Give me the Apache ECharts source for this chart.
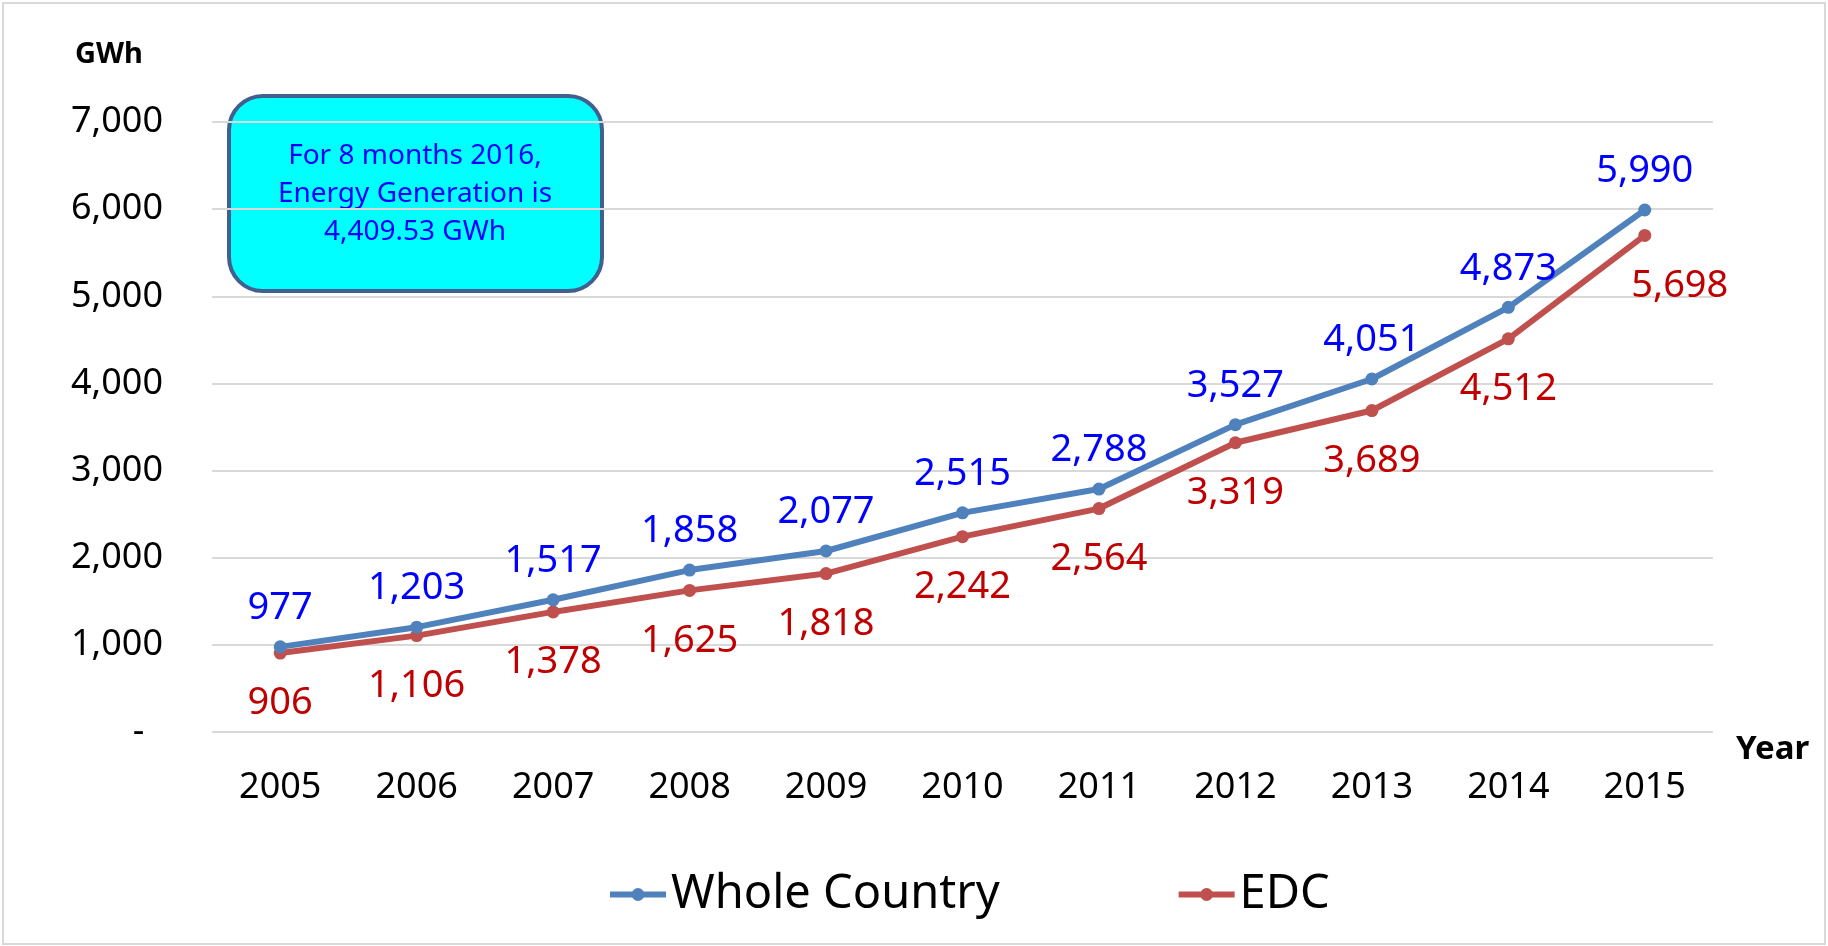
<!DOCTYPE html>
<html>
<head>
<meta charset="utf-8">
<title>Energy Generation</title>
<script src="https://cdn.jsdelivr.net/npm/echarts@6/dist/echarts.min.js"></script>
<style>
  html, body { margin: 0; padding: 0; background: #ffffff; }
  #main { width: 1828px; height: 946px; }
</style>
</head>
<body>
<div id="main"></div>
<script>
// chart data
const years = ['2005', '2006', '2007', '2008', '2009', '2010', '2011', '2012', '2013', '2014', '2015'];
const wholeCountry = [977, 1203, 1517, 1858, 2077, 2515, 2788, 3527, 4051, 4873, 5990];
const edc = [906, 1106, 1378, 1625, 1818, 2242, 2564, 3319, 3689, 4512, 5698];
const seriesNames = ['Whole Country', 'EDC'];
const noteLines = ['For 8 months 2016,', 'Energy Generation is', '4,409.53 GWh'];

const FONT = '"Noto Sans", "Open Sans", sans-serif';
const fmt = function (v) {
  return Number(v).toLocaleString('en-US');
};

var myChart = echarts.init(document.getElementById('main'));

// last EDC label sits a bit to the right in the original
var edcData = edc.map(function (v, i) {
  if (i === edc.length - 1) {
    return { value: v, label: { offset: [35, 0] } };
  }
  return v;
});

var option = {
  backgroundColor: '#ffffff',
  animation: false,
  grid: {
    left: 212,
    right: 115,
    top: 122,
    bottom: 214,
  },
  legend: {
    left: 602,
    top: 866,
    itemWidth: 56,
    itemHeight: 16,
    itemGap: 176,
    lineStyle: { width: 6 },
    textStyle: {
      fontFamily: FONT,
      fontSize: 47,
      color: '#000000',
    },
    data: seriesNames,
  },
  xAxis: {
    type: 'category',
    data: years,
    boundaryGap: true,
    axisLine: { show: false },
    axisTick: { show: false },
    axisLabel: {
      margin: 38,
      fontFamily: FONT,
      fontSize: 36,
      color: '#000000',
    },
  },
  yAxis: {
    type: 'value',
    min: 0,
    max: 7000,
    interval: 1000,
    axisLine: { show: false },
    axisTick: { show: false },
    splitLine: {
      lineStyle: { color: '#D9D9D9', width: 2 },
    },
    axisLabel: {
      margin: 49,
      fontFamily: FONT,
      fontSize: 36,
      color: '#000000',
      formatter: function (v) {
        return v === 0 ? '-  ' : fmt(v);
      },
    },
  },
  series: [
    {
      name: seriesNames[0],
      type: 'line',
      data: wholeCountry,
      symbol: 'circle',
      symbolSize: 13,
      color: '#4F81BD',
      lineStyle: { width: 6 },
      label: {
        show: true,
        position: 'top',
        distance: 13,
        fontFamily: FONT,
        fontSize: 38,
        color: '#0000FF',
        formatter: function (p) {
          return fmt(p.value);
        },
      },
      z: 3,
    },
    {
      name: seriesNames[1],
      type: 'line',
      data: edcData,
      symbol: 'circle',
      symbolSize: 13,
      color: '#C0504D',
      lineStyle: { width: 6 },
      label: {
        show: true,
        position: 'bottom',
        distance: 25,
        fontFamily: FONT,
        fontSize: 38,
        color: '#C00000',
        formatter: function (p) {
          return fmt(p.value);
        },
      },
      z: 2,
    },
  ],
  graphic: [
    {
      // outer frame
      type: 'rect',
      shape: { x: 3, y: 3, width: 1822, height: 941 },
      style: { fill: 'none', stroke: '#D9D9D9', lineWidth: 2 },
      silent: true,
    },
    {
      type: 'text',
      left: 75,
      top: 40,
      style: {
        text: 'GWh',
        fontFamily: FONT,
        fontWeight: 'bold',
        fontSize: 29,
        fill: '#000000',
      },
    },
    {
      type: 'text',
      left: 1736,
      top: 733,
      style: {
        text: 'Year',
        fontFamily: FONT,
        fontWeight: 'bold',
        fontSize: 33,
        fill: '#000000',
      },
    },
    {
      type: 'group',
      left: 227,
      top: 94,
      children: [
        {
          type: 'rect',
          shape: { x: 0, y: 0, width: 373, height: 195, r: 34 },
          style: { fill: '#00FFFF', stroke: '#41608F', lineWidth: 4 },
        },
        {
          type: 'text',
          x: 186,
          y: 98,
          style: {
            text: noteLines.join('\n'),
            fontFamily: FONT,
            fontSize: 28,
            lineHeight: 38,
            fill: '#0000FF',
            align: 'center',
            verticalAlign: 'middle',
          },
        },
      ],
    },
  ],
};

myChart.setOption(option);
</script>
</body>
</html>
